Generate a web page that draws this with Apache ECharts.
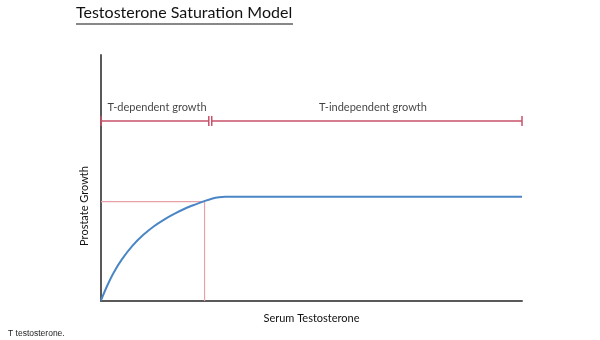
<!DOCTYPE html>
<html><head><meta charset="utf-8">
<script src="https://cdn.jsdelivr.net/npm/echarts@6/dist/echarts.min.js"></script>
<style>html,body{margin:0;padding:0;background:#fff}#c{width:600px;height:340px}</style>
</head><body><div id="c"></div>
<script>
// Saturation curve (x = serum T, y = prostate growth), arbitrary units 0-100
const curveX = [0, 1.5, 3, 5, 7.5, 10, 12.5, 15, 17.5, 20, 22.5, 24.7, 26.5, 28, 29.5, 100];
const curveY = [0.3, 6.3, 11.5, 17.0, 22.5, 26.8, 30.3, 33.1, 35.5, 37.6, 39.3, 40.7, 41.7, 42.2, 42.4, 42.4];
// Guide lines at saturation point
const guideX = [0, 24.6, 24.6];
const guideY = [40.4, 40.4, 0];
// Growth phase bars
const phaseNames = ['T-dependent growth', 'T-independent growth'];
const phaseStart = [0, 26.3];
const phaseEnd = [25.6, 100];
const phaseLevel = 73.2;
const phaseLabelX = [13.3, 64.6];
const phaseLabelY = 78.6;

const chart = echarts.init(document.getElementById('c'));
const font = 'Lato, "Open Sans", sans-serif';
const series = [
  {
    type: 'line', data: guideX.map((x, i) => [x, guideY[i]]),
    symbol: 'none', lineStyle: {color: '#e8a1a8', width: 1.2}, silent: true
  },
  {
    type: 'line', smooth: 0.3, data: curveX.map((x, i) => [x, curveY[i]]),
    symbol: 'none', lineStyle: {color: '#4a86c6', width: 2}, silent: true
  }
];
phaseNames.forEach((n, i) => {
  series.push({
    type: 'line', data: [[phaseStart[i], phaseLevel], [phaseEnd[i], phaseLevel]],
    symbol: 'rect', symbolSize: [1.5, 10], showSymbol: true,
    itemStyle: {color: '#c8506a'}, lineStyle: {color: '#c8506a', width: 1.5}, silent: true
  });
});
series.push({
  type: 'scatter', symbolSize: 0, silent: true,
  data: phaseNames.map((n, i) => ({value: [phaseLabelX[i], phaseLabelY], name: n})),
  label: {show: true, position: 'inside', formatter: p => p.name, color: '#111', fontSize: 11, fontFamily: font}
});

chart.setOption({
  animation: false,
  grid: {left: 101, right: 78, top: 55, bottom: 39},
  xAxis: {
    type: 'value', min: 0, max: 100,
    name: 'Serum Testosterone', nameLocation: 'middle', nameGap: 12,
    nameTextStyle: {color: '#111', fontSize: 11, fontFamily: font},
    axisLine: {show: true, lineStyle: {color: '#595959', width: 2}},
    axisTick: {show: false}, axisLabel: {show: false}, splitLine: {show: false}
  },
  yAxis: {
    type: 'value', min: 0, max: 100,
    axisLine: {show: true, lineStyle: {color: '#595959', width: 2}},
    axisTick: {show: false}, axisLabel: {show: false}, splitLine: {show: false}
  },
  graphic: [
    {type: 'text', left: 76, top: 5, style: {text: 'Testosterone Saturation Model', fontSize: 16, fontFamily: font, fill: '#111'}},
    {type: 'line', shape: {x1: 76, y1: 24, x2: 293, y2: 24}, style: {stroke: '#111', lineWidth: 1}},
    {type: 'text', x: 84, y: 206, rotation: Math.PI / 2, style: {text: 'Prostate Growth', fontSize: 11, fontFamily: font, fill: '#111', align: 'center', verticalAlign: 'middle'}},
    {type: 'text', left: 8, top: 329, style: {text: 'T testosterone.', fontSize: 8.5, fontFamily: 'Liberation Sans, Arial, sans-serif', fill: '#222'}}
  ],
  series: series
});
</script></body></html>
